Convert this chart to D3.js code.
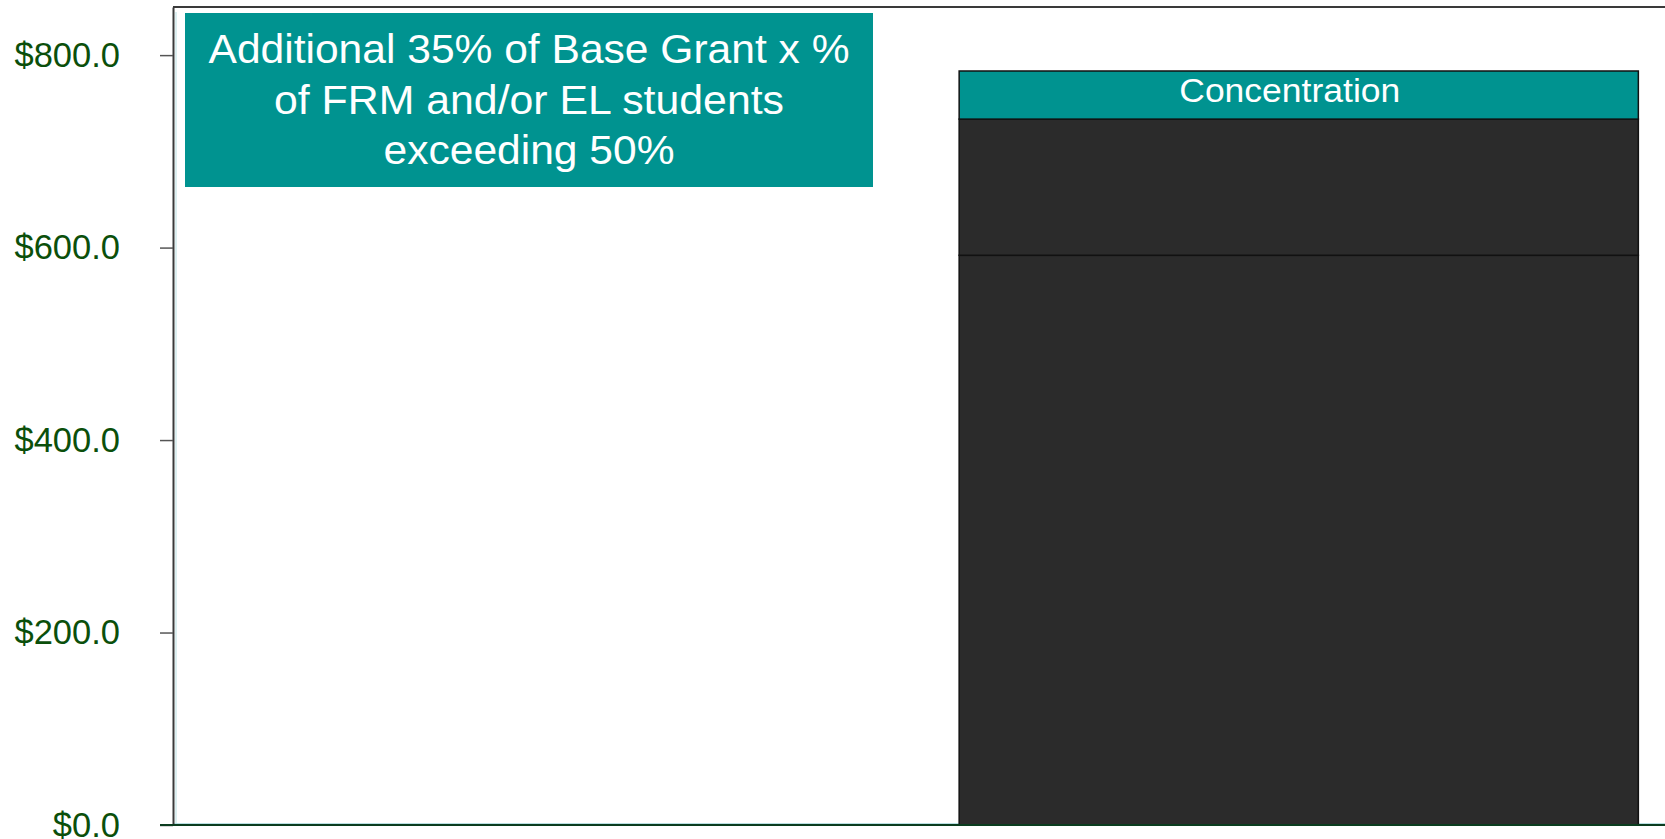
<!DOCTYPE html>
<html><head><meta charset="utf-8">
<script src="https://cdn.jsdelivr.net/npm/d3@7"></script>
<style>html,body{margin:0;padding:0;background:#fff;overflow:hidden}</style>
</head><body>
<svg id="chart" width="1665" height="839"></svg>
<script>
// ---- data ----
const categories = ["", "LCFF"];
const seriesNames = ["Base Grant", "Supplemental", "Concentration"];
const baseValues = [0, 592];
const supplementalValues = [0, 141.5];
const concentrationValues = [0, 50];
const yTicks = [0, 200, 400, 600, 800];
const yTickLabels = ["$0.0", "$200.0", "$400.0", "$600.0", "$800.0"];
const segmentLabels = ["", "", "Concentration"];
const noteLines = ["Additional 35% of Base Grant x %", "of FRM and/or EL students", "exceeding 50%"];

(function () {
const svg = d3.select("#chart");
const pLeft = 173, pRight = 1674, pTop = 7, pBottom = 825;

const x = d3.scaleBand().domain(categories).range([pLeft, pRight]).paddingInner(0.095).paddingOuter(0.0475);
const y = d3.scaleLinear().domain([0, 850]).range([pBottom, pTop]);

const table = categories.map((c, i) => ({cat: c, Base: baseValues[i], Supp: supplementalValues[i], Conc: concentrationValues[i]}));
const stack = d3.stack().keys(["Base", "Supp", "Conc"])(table);
const fills = ["#2b2b2b", "#2b2b2b", "#009390"];

// plot frame
svg.append("line").attr("x1", pLeft).attr("x2", 1665).attr("y1", pTop).attr("y2", pTop)
  .attr("stroke", "#3a3a3a").attr("stroke-width", 2);
// faint inner border
svg.append("line").attr("x1", pLeft + 3).attr("x2", pLeft + 3).attr("y1", pTop + 5).attr("y2", pBottom)
  .attr("stroke", "#b9e0e3").attr("stroke-width", 1);
svg.append("line").attr("x1", pLeft).attr("x2", 1665).attr("y1", pBottom - 1.5).attr("y2", pBottom - 1.5)
  .attr("stroke", "#b9e0e3").attr("stroke-width", 1);

// bars
stack.forEach((layer, k) => {
  svg.append("g").selectAll("rect").data(layer.filter(d => d[1] - d[0] > 0)).join("rect")
    .attr("x", d => x(d.data.cat))
    .attr("width", x.bandwidth())
    .attr("y", d => y(d[1]))
    .attr("height", d => y(d[0]) - y(d[1]))
    .attr("fill", fills[k])
    .attr("stroke", "#111").attr("stroke-width", 1.5);
  if (segmentLabels[k]) {
    svg.append("g").selectAll("text").data(layer.filter(d => d[1] - d[0] > 0)).join("text")
      .attr("x", d => x(d.data.cat) + x.bandwidth() / 2 - 9)
      .attr("y", d => y(d[1]) + 31)
      .attr("text-anchor", "middle")
      .attr("fill", "#fff")
      .style("font-family", "'Liberation Sans', Arial, sans-serif")
      .style("font-size", "34px")
      .attr("textLength", 221).attr("lengthAdjust", "spacingAndGlyphs")
      .text(segmentLabels[k]);
  }
});

// y axis
const yAxis = d3.axisLeft(y).tickValues(yTicks).tickSize(13).tickSizeOuter(0).tickPadding(40)
  .tickFormat((d, i) => yTickLabels[i]);
const ga = svg.append("g").attr("transform", `translate(${pLeft},0)`).call(yAxis);
ga.select(".domain").attr("stroke", "#3a3a3a").attr("stroke-width", 2);
ga.selectAll(".tick line").attr("stroke", "#555").attr("stroke-width", 1.5);
ga.selectAll(".tick text").attr("fill", "#0b4f0b")
  .style("font-family", "'Liberation Sans', Arial, sans-serif").style("font-size", "34.5px");

// baseline
svg.append("line").attr("x1", 160).attr("x2", 1665).attr("y1", y(0)).attr("y2", y(0))
  .attr("stroke", "#0b3d1f").attr("stroke-width", 2);

// annotation box
svg.append("rect").attr("x", 185).attr("y", 13).attr("width", 688).attr("height", 174).attr("fill", "#009390");
const noteWidths = [641, 510, 291];
const nt = svg.append("g").attr("fill", "#fff").attr("text-anchor", "middle")
  .style("font-family", "'Liberation Sans', Arial, sans-serif").style("font-size", "41px");
noteLines.forEach((l, i) => {
  nt.append("text").attr("x", 529).attr("y", 63 + i * 50.5)
    .attr("textLength", noteWidths[i]).attr("lengthAdjust", "spacingAndGlyphs").text(l);
});
})();
</script>
</body></html>
